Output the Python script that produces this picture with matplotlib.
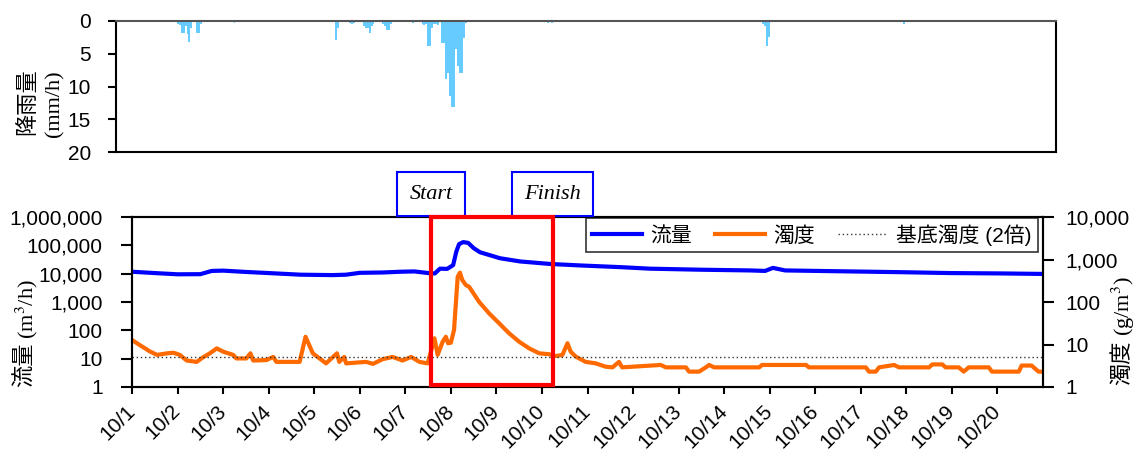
import matplotlib.pyplot as plt
import matplotlib.transforms as mtransforms
from matplotlib.patches import Rectangle
from matplotlib.lines import Line2D

plt.rcParams['font.family'] = ['Liberation Sans', 'Noto Sans CJK JP']

# 降雨量 (時間, mm/h)
rain_hour = [31, 32, 33, 34, 35, 36, 37, 38, 41, 42, 43, 60,
             112, 113, 119, 120, 121, 123, 126, 127, 128, 129, 130, 131, 136, 137, 138, 139, 140,
             151, 156, 157, 158, 159, 160, 161, 162, 163, 164,
             166, 167, 168, 169, 170, 171, 172, 173, 174, 175, 176, 177, 178, 182,
             220, 222, 230,
             330, 331, 332, 333,
             402]
rain_mm = [0.5, 0.6, 1.8, 1.8, 0.8, 2.0, 3.2, 1.0, 1.9, 1.9, 0.4, 0.3,
           2.9, 1.0, 0.3, 0.4, 0.3, 0.2, 0.8, 1.0, 1.0, 1.8, 0.8, 0.5, 0.4, 0.8, 1.4, 1.3, 0.4,
           0.3, 0.5, 0.6, 0.5, 3.8, 3.8, 1.1, 0.5, 0.4, 0.6,
           3.3, 3.3, 8.8, 7.9, 11.5, 13.2, 13.2, 4.2, 6.8, 8.0, 8.0, 2.6, 0.3, 0.2,
           0.3, 0.3, 0.2,
           0.5, 0.8, 3.8, 2.4,
           0.4]

# 流量 (日, m3/h)
flow_day = [0, 0.5, 1.0, 1.5, 1.75, 2.0, 2.5, 3.0, 3.7, 4.4, 4.7, 5.0, 5.5, 5.9, 6.2,
            6.55, 6.65, 6.76, 6.92, 7.05, 7.12, 7.18, 7.27, 7.38, 7.5, 7.64, 8.08, 8.52,
            9.18, 9.84, 10.72, 11.37, 12.47, 13.57, 13.9, 14.07, 14.34, 15.76, 16.86,
            17.96, 19.06, 19.97]
flow = [11700, 10500, 9500, 9600, 12500, 12800, 11500, 10500, 9200, 8900, 9200, 10700,
        11000, 11700, 12000, 10300, 10200, 15000, 14800, 20000, 60000, 110000, 130000,
        122000, 80000, 57000, 35000, 27000, 22000, 19500, 17000, 15000, 13800, 13000,
        12500, 16000, 13000, 12000, 11300, 10500, 10200, 9800]

# 濁度 (日, g/m3)
turb_day = [0, 0.17, 0.4, 0.55, 0.77, 0.91, 1.05, 1.2, 1.42, 1.56, 1.71, 1.86, 2.0, 2.22,
            2.29, 2.51, 2.6, 2.66, 2.95, 3.1, 3.17, 3.68, 3.81, 3.97, 4.26, 4.5, 4.55, 4.66,
            4.7, 5.14, 5.29, 5.5, 5.72, 5.94, 6.13, 6.31, 6.49, 6.64, 6.71, 6.82, 6.89, 6.94,
            7.0, 7.07, 7.15, 7.2, 7.25, 7.33, 7.4, 7.62, 7.84, 8.06, 8.28, 8.5, 8.72, 8.94,
            9.16, 9.3, 9.45, 9.56, 9.63, 9.74, 9.96, 10.18, 10.4, 10.55, 10.69, 10.76, 11.61,
            11.72, 12.16, 12.23, 12.45, 12.6, 12.67, 12.78, 13.77, 13.83, 14.8, 14.86, 16.11,
            16.18, 16.33, 16.4, 16.73, 16.84, 17.5, 17.57, 17.79, 17.86, 18.15, 18.26, 18.37,
            18.81, 18.88, 19.47, 19.53, 19.75, 19.9, 19.97]
turb = [12.8, 9.7, 6.8, 5.7, 6.2, 6.4, 5.7, 4.2, 3.9, 5.0, 6.2, 8.1, 6.8, 5.7,
        4.7, 4.7, 6.2, 4.2, 4.3, 5.1, 3.9, 3.9, 15.2, 6.2, 3.6, 6.2, 3.9, 5.1,
        3.6, 3.9, 3.5, 4.5, 5.1, 4.2, 5.1, 3.9, 3.6, 14, 5.7, 11.6, 15.2, 10.7,
        11, 22, 393, 490, 330, 250, 229, 101, 54, 31.6, 18.3, 11.6, 8.1, 6.2,
        5.9, 5.35, 5.7, 10.7, 6.8, 5.2, 3.9, 3.6, 3.0, 2.9, 3.9, 2.9, 3.3,
        2.9, 2.9, 2.3, 2.3, 2.9, 3.3, 2.9, 2.9, 3.3, 3.3, 2.9, 2.9,
        2.3, 2.3, 2.9, 3.3, 2.9, 2.9, 3.4, 3.4, 2.9, 2.9, 2.3, 2.9,
        2.9, 2.3, 2.3, 3.2, 3.2, 2.3, 2.3]

base_turb = 5.2
event_start, event_end = 6.56, 9.24
xlabels = ['10/%d' % d for d in range(1, 21)]

W, H = 1141, 451
fig = plt.figure(figsize=(W / 100, H / 100), dpi=100)

# 上段: 降雨量
ax_r = fig.add_axes([116 / W, 1 - 152 / H, 940 / W, 131 / H])
ax_r.bar(rain_hour, rain_mm, width=1.0, color='#66CCFF', align='edge', linewidth=0)
ax_r.set_xlim(0, 480)
ax_r.set_ylim(20, 0)
ax_r.set_yticks([0, 5, 10, 15, 20])
ax_r.set_xticks([])
ax_r.tick_params(axis='y', direction='out', length=6, width=1.5, labelsize=15, pad=12)
for s in ['left', 'bottom', 'right']:
    ax_r.spines[s].set_linewidth(1.5)
ax_r.spines['top'].set_color('#555555')
ax_r.spines['top'].set_linewidth(1.5)
fig.text(27 / W, 1 - 102 / H, '降雨量', rotation=90, ha='center', va='center',
         fontsize=16, family='Noto Sans CJK JP')
fig.text(55 / W, 1 - 104 / H, '(mm/h)', rotation=90, ha='center', va='center',
         fontsize=16, family='Liberation Serif')

# 下段: 流量・濁度
ax = fig.add_axes([132 / W, 1 - 387 / H, 911 / W, 170 / H])
ax.plot(flow_day, flow, color='#0000FF', linewidth=3)
ax.set_yscale('log')
ax.set_ylim(1, 1e6)
ax.set_xlim(0, 20)
ax.set_yticks([1, 10, 100, 1000, 10000, 100000, 1000000])
ax.set_yticklabels(['1', '10', '100', '1,000', '10,000', '100,000', '1,000,000'])
ax.minorticks_off()
ax.set_xticks(range(20))
ax.set_xticklabels(xlabels, rotation=45, ha='right', va='center', rotation_mode='anchor')
ax.tick_params(axis='y', direction='out', length=8, width=1.5, labelsize=15, pad=13)
ax.tick_params(axis='x', direction='out', length=5, width=1.5, labelsize=15, pad=10)
for s in ax.spines.values():
    s.set_linewidth(1.5)

ax2 = ax.twinx()
ax2.plot(turb_day, turb, color='#FF6A00', linewidth=3)
ax2.axhline(base_turb, color='#333333', linestyle=(0, (1, 2)), linewidth=1)
ax2.set_yscale('log')
ax2.set_ylim(1, 1e4)
ax2.set_yticks([1, 10, 100, 1000, 10000])
ax2.set_yticklabels(['1', '10', '100', '1,000', '10,000'])
ax2.minorticks_off()
ax2.tick_params(axis='y', direction='out', length=8, width=1.5, labelsize=15, pad=8)
for s in ax2.spines.values():
    s.set_linewidth(1.5)

fig.text(24 / W, 1 - 365 / H, '流量', rotation=90, ha='center', va='center',
         fontsize=16, family='Noto Sans CJK JP')
fig.text(27 / W, 1 - 309 / H, '(m$^{3}$/h)', rotation=90, ha='center', va='center',
         fontsize=16, family='Liberation Serif', math_fontfamily='stix')
fig.text(1122 / W, 1 - 363 / H, '濁度', rotation=90, ha='center', va='center',
         fontsize=16, family='Noto Sans CJK JP')
fig.text(1123 / W, 1 - 306 / H, '(g/m$^{3}$)', rotation=90, ha='center', va='center',
         fontsize=16, family='Liberation Serif', math_fontfamily='stix')

# 赤枠と Start / Finish
trans = mtransforms.blended_transform_factory(ax2.transData, ax2.transAxes)
ax2.add_patch(Rectangle((event_start, 0.012), event_end - event_start, 0.988,
                        transform=trans, fill=False, edgecolor='#FF0000',
                        linewidth=3, clip_on=False, zorder=5))
for xd, label in [(event_start, 'Start'), (event_end, 'Finish')]:
    ax2.text(xd, 1.135, label, transform=trans, ha='center', va='center',
             fontsize=16, style='italic', family='Liberation Serif',
             bbox=dict(boxstyle='square,pad=0.55', facecolor='white',
                       edgecolor='#0000FF', linewidth=1.5))

handles = [Line2D([], [], color='#0000FF', linewidth=3),
           Line2D([], [], color='#FF6A00', linewidth=3),
           Line2D([], [], color='#333333', linestyle=(0, (1, 2)), linewidth=1)]
leg = ax2.legend(handles, ['流量', '濁度', '基底濁度 (2倍)'], loc='upper right',
                 bbox_to_anchor=(1 - 5 / 911, 1 - 1 / 170), ncol=3, fontsize=15,
                 frameon=True, fancybox=False, edgecolor='black', borderaxespad=0,
                 handlelength=2.4, columnspacing=1.1, handletextpad=0.4,
                 borderpad=0.3)
leg.get_frame().set_linewidth(1.2)

plt.savefig('out.png', dpi=100)
